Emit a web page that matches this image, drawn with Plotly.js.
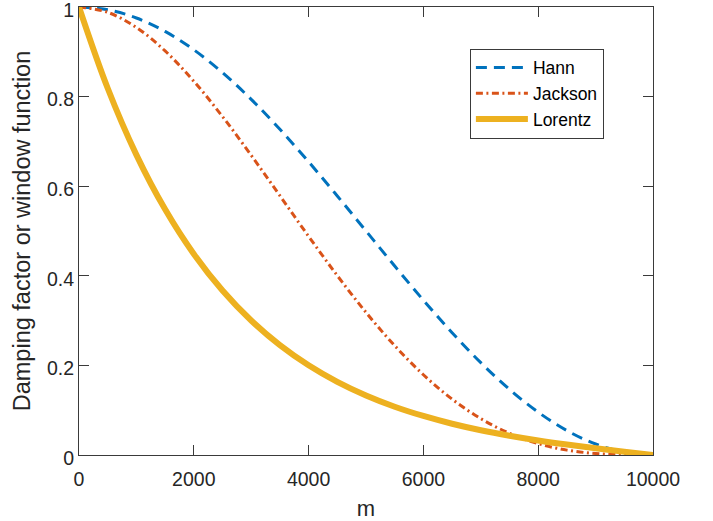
<!DOCTYPE html>
<html><head><meta charset="utf-8">
<script src="https://cdn.plot.ly/plotly-3.0.1.min.js"></script>
<style>body{margin:0;background:#fff}#c{width:713px;height:521px}</style>
</head><body><div id="c"></div>
<script>
const m = [0,500,1000,1500,2000,2500,3000,3500,4000,4500,5000,5500,6000,6500,7000,7500,8000,8500,9000,9500,10000];
const hann = [1,0.9938,0.9755,0.9455,0.9045,0.8536,0.7939,0.7270,0.6545,0.5782,0.5,0.4218,0.3455,0.2730,0.2061,0.1464,0.0955,0.0545,0.0245,0.0062,0];
const jackson = [1,0.9881,0.9543,0.9019,0.8343,0.7554,0.6690,0.5787,0.4881,0.4004,0.3183,0.2440,0.1791,0.1247,0.0812,0.0483,0.0253,0.0109,0.0033,0.0004,0];
const lorentz = [1,0.8186,0.6700,0.5484,0.4487,0.3671,0.3002,0.2453,0.2003,0.1633,0.1329,0.1078,0.0871,0.0698,0.0553,0.0431,0.0325,0.0233,0.0151,0.0074,0];
const names = ['Hann','Jackson','Lorentz'];
const xTicks = [0,2000,4000,6000,8000,10000];
const xTickText = ['0','2000','4000','6000','8000','10000'];
const yTicks = [0,0.2,0.4,0.6,0.8,1];
const yTickText = ['0','0.2','0.4','0.6','0.8','1'];

const FONT = 'Liberation Sans, Arial, Helvetica, sans-serif';
const traces = [
  {x:m, y:hann, name:names[0], mode:'lines', line:{color:'#0072BD', width:3, dash:'11px,7px', shape:'spline'}},
  {x:m, y:jackson, name:names[1], mode:'lines', line:{color:'#D95319', width:3, dash:'7px,3.5px,2px,3.5px', shape:'spline'}},
  {x:m, y:lorentz, name:names[2], mode:'lines', line:{color:'#EDB120', width:6, shape:'spline'}}
];
const axBase = {showgrid:false, zeroline:false, showline:true, mirror:'ticks', linecolor:'#3a3a3a', linewidth:1,
  ticks:'inside', ticklen:10, tickcolor:'#3a3a3a', ticklabeloverflow:'allow', automargin:false,
  tickfont:{family:FONT, size:19.5, color:'#262626'}};
const layout = {
  width:713, height:521, margin:{l:79, r:60, t:7, b:66}, paper_bgcolor:'#fff', plot_bgcolor:'#fff',
  showlegend:true,
  xaxis:Object.assign({}, axBase, {range:[0,10000], tickvals:xTicks, ticktext:xTickText, ticklabelstandoff:7,
    title:{text:'m', font:{family:FONT, size:22, color:'#262626'}, standoff:11}}),
  yaxis:Object.assign({}, axBase, {range:[0,1], tickvals:yTicks, ticktext:yTickText, ticklabelshift:3,
    title:{text:'Damping factor or window function', font:{family:FONT, size:23.5, color:'#262626'}, standoff:9}}),
  legend:{x:0.681, y:0.907, xanchor:'left', yanchor:'top', bgcolor:'#fff', bordercolor:'#3a3a3a', borderwidth:1,
    itemwidth:52, font:{family:FONT, size:17.5, color:'#000'}, tracegroupgap:0}
};
Plotly.newPlot('c', traces, layout, {displayModeBar:false, staticPlot:true});
</script></body></html>
